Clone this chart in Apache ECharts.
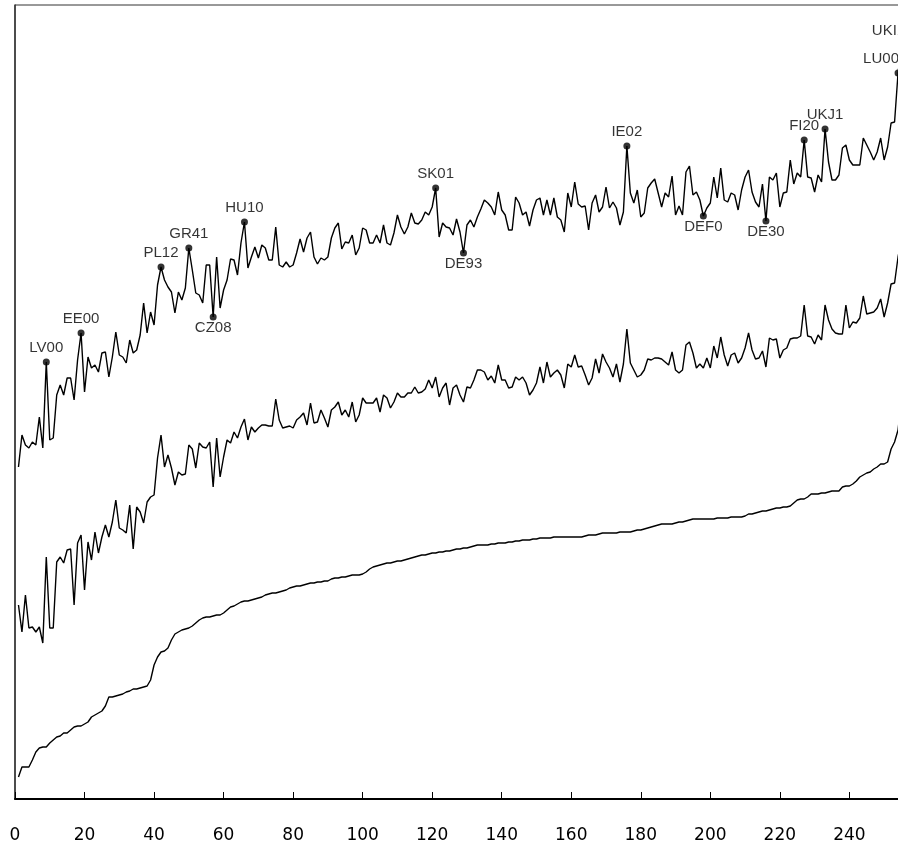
<!DOCTYPE html>
<html>
<head>
<meta charset="utf-8">
<script src="https://cdn.jsdelivr.net/npm/echarts@6.0.0/dist/echarts.min.js"></script>
<style>
  html, body { margin: 0; padding: 0; background: #fff; overflow: hidden; }
  /* a bit wider than the window: the plot runs past the right edge */
  #chart { width: 905px; height: 848px; }
</style>
</head>
<body>
<div id="chart"></div>
<script>
// region rank 1..255 along the x axis
const upper = [
  33.2, 36.4, 35.4, 35.1, 35.7, 35.4, 38.2, 35.1, 43.7, 35.9,
  36.1, 40.4, 41.4, 40.4, 42.1, 42.1, 39.9, 43.9, 46.6, 40.7,
  44.2, 43.1, 43.4, 42.7, 44.6, 44.7, 42.2, 44.2, 46.7, 44.4,
  44.2, 43.6, 45.9, 44.6, 44.9, 46.4, 49.6, 46.6, 48.7, 47.4,
  51.4, 53.2, 51.9, 51.2, 50.7, 48.6, 50.7, 49.9, 51.1, 55.1,
  52.9, 50.6, 50.4, 49.6, 53.4, 53.4, 48.2, 54.2, 49.1, 50.9,
  51.9, 54.0, 53.9, 52.4, 55.6, 57.7, 53.1, 54.2, 55.2, 54.1,
  55.4, 55.1, 53.9, 53.9, 57.2, 53.4, 53.2, 53.7, 53.2, 53.4,
  54.6, 56.0, 54.7, 56.1, 56.7, 54.2, 53.5, 54.1, 53.9, 54.2,
  56.1, 57.1, 57.6, 55.0, 55.7, 55.6, 56.4, 54.4, 55.1, 57.1,
  56.9, 55.6, 55.6, 56.4, 55.6, 57.4, 55.6, 55.4, 56.6, 58.4,
  57.2, 56.5, 57.2, 58.6, 57.6, 57.5, 57.9, 58.7, 58.4, 59.2,
  61.1, 56.2, 57.6, 57.2, 57.1, 56.4, 58.0, 56.7, 54.6, 57.4,
  57.9, 57.2, 58.2, 59.0, 59.9, 59.6, 59.2, 58.4, 60.7, 58.9,
  58.4, 56.9, 56.9, 60.2, 59.6, 58.4, 58.7, 57.3, 58.9, 59.9,
  60.1, 58.4, 59.9, 58.4, 60.1, 58.2, 57.9, 56.7, 60.6, 59.2,
  61.7, 59.5, 59.2, 59.3, 56.9, 59.6, 60.4, 58.7, 59.2, 61.2,
  59.1, 59.7, 59.1, 57.4, 58.7, 65.3, 60.6, 59.6, 60.9, 58.2,
  58.6, 61.1, 61.6, 62.0, 60.6, 59.2, 60.6, 60.2, 62.3, 58.4,
  59.3, 58.4, 62.7, 63.3, 60.4, 60.7, 59.9, 58.3, 59.1, 59.6,
  62.2, 60.1, 63.1, 59.9, 59.7, 60.6, 60.4, 58.9, 60.9, 62.2,
  62.9, 60.7, 59.7, 59.2, 61.5, 57.8, 62.2, 61.9, 62.6, 59.2,
  60.6, 60.7, 63.9, 61.5, 62.6, 62.2, 65.9, 62.2, 62.1, 60.7,
  62.4, 61.7, 67.0, 63.7, 61.9, 61.9, 62.4, 65.1, 65.4, 63.9,
  63.4, 63.4, 63.4, 66.1, 65.4, 64.7, 63.9, 64.7, 66.1, 63.9,
  65.2, 67.6, 67.7, 72.6, 75.4
]

const middle = [
  19.4, 16.7, 20.4, 17.1, 17.2, 16.7, 17.2, 15.6, 24.2, 17.1,
  17.1, 23.7, 24.2, 23.6, 24.9, 25.0, 19.4, 25.6, 26.4, 20.9,
  25.7, 23.9, 26.7, 24.6, 26.2, 27.4, 26.2, 27.7, 29.9, 27.1,
  26.9, 26.6, 29.4, 25.0, 29.2, 28.7, 27.6, 29.7, 30.2, 30.4,
  34.1, 36.4, 33.2, 34.4, 33.1, 31.4, 32.7, 32.4, 32.5, 35.4,
  35.0, 33.1, 35.6, 35.2, 35.1, 35.7, 31.2, 36.1, 32.2, 34.2,
  35.9, 35.6, 36.7, 36.1, 37.2, 38.0, 35.9, 37.2, 36.7, 37.1,
  37.4, 37.4, 37.3, 37.3, 40.0, 37.9, 37.1, 37.2, 37.3, 37.1,
  37.9, 38.2, 38.6, 37.4, 39.6, 37.6, 37.7, 38.9, 38.1, 37.2,
  38.9, 39.2, 39.7, 38.4, 38.9, 38.2, 39.7, 37.7, 38.4, 40.1,
  39.6, 39.6, 39.6, 40.1, 38.7, 40.4, 40.1, 39.1, 39.7, 40.6,
  40.2, 40.2, 40.6, 40.6, 41.2, 40.6, 40.7, 41.0, 41.9, 41.1,
  42.2, 40.2, 41.1, 41.6, 39.4, 41.1, 41.4, 40.4, 39.7, 41.2,
  41.1, 41.9, 42.9, 42.9, 42.7, 41.9, 42.3, 41.6, 43.4, 41.9,
  41.9, 41.1, 41.2, 42.2, 41.9, 42.2, 41.6, 40.4, 40.9, 41.6,
  43.2, 41.6, 43.7, 42.2, 42.6, 42.9, 42.4, 41.1, 43.5, 43.2,
  44.4, 43.2, 43.3, 42.4, 41.4, 42.1, 44.0, 42.6, 44.5, 43.7,
  43.1, 42.2, 43.5, 41.7, 43.5, 47.0, 43.6, 42.9, 42.2, 42.4,
  42.9, 44.0, 43.9, 44.1, 44.1, 44.0, 43.7, 43.4, 44.7, 42.9,
  42.6, 42.9, 45.4, 45.7, 44.6, 43.1, 43.5, 43.1, 44.1, 43.1,
  45.3, 44.1, 46.2, 44.4, 43.3, 44.4, 44.6, 43.6, 44.1, 45.1,
  46.6, 44.9, 44.0, 44.1, 44.8, 43.2, 46.1, 45.9, 46.0, 44.1,
  44.9, 45.1, 46.0, 46.1, 46.1, 46.3, 49.4, 46.3, 46.2, 45.5,
  46.4, 45.9, 49.4, 47.9, 47.0, 46.6, 46.5, 46.5, 49.4, 47.1,
  47.7, 47.6, 48.1, 50.3, 48.5, 48.6, 48.7, 49.1, 50.0, 48.2,
  49.6, 51.5, 51.6, 54.2, 56.0
]

const lower = [
  2.2, 3.2, 3.2, 3.2, 3.9, 4.7, 5.1, 5.2, 5.2, 5.6,
  5.9, 6.2, 6.3, 6.6, 6.6, 6.9, 7.2, 7.3, 7.3, 7.5,
  7.7, 8.2, 8.4, 8.6, 8.8, 9.3, 10.2, 10.2, 10.3, 10.4,
  10.5, 10.7, 10.8, 11.0, 11.0, 11.1, 11.2, 11.3, 11.9, 13.4,
  14.2, 14.7, 14.8, 15.1, 15.9, 16.5, 16.7, 16.9, 17.0, 17.1,
  17.3, 17.6, 17.9, 18.1, 18.2, 18.2, 18.3, 18.4, 18.4, 18.6,
  18.9, 19.2, 19.3, 19.5, 19.7, 19.8, 19.8, 19.9, 20.0, 20.1,
  20.2, 20.4, 20.5, 20.6, 20.6, 20.7, 20.8, 20.9, 21.1, 21.2,
  21.3, 21.3, 21.4, 21.5, 21.6, 21.6, 21.7, 21.7, 21.8, 21.8,
  22.0, 22.1, 22.1, 22.2, 22.2, 22.3, 22.4, 22.4, 22.4, 22.5,
  22.7, 23.0, 23.2, 23.3, 23.4, 23.5, 23.6, 23.6, 23.7, 23.8,
  23.8, 23.9, 24.0, 24.1, 24.2, 24.3, 24.4, 24.4, 24.5, 24.6,
  24.6, 24.7, 24.7, 24.8, 24.8, 24.9, 25.0, 25.0, 25.1, 25.1,
  25.2, 25.3, 25.4, 25.4, 25.4, 25.4, 25.5, 25.5, 25.6, 25.6,
  25.6, 25.7, 25.7, 25.8, 25.8, 25.9, 25.9, 25.9, 26.0, 26.0,
  26.1, 26.1, 26.1, 26.1, 26.2, 26.2, 26.2, 26.2, 26.2, 26.2,
  26.2, 26.2, 26.2, 26.3, 26.4, 26.4, 26.4, 26.5, 26.6, 26.6,
  26.6, 26.6, 26.6, 26.7, 26.7, 26.7, 26.7, 26.8, 26.9, 26.9,
  27.0, 27.1, 27.2, 27.3, 27.4, 27.5, 27.5, 27.5, 27.5, 27.6,
  27.7, 27.7, 27.8, 27.9, 28.0, 28.0, 28.0, 28.0, 28.0, 28.0,
  28.0, 28.1, 28.1, 28.1, 28.1, 28.2, 28.2, 28.2, 28.2, 28.3,
  28.5, 28.5, 28.6, 28.7, 28.8, 28.8, 28.9, 29.0, 29.1, 29.1,
  29.2, 29.2, 29.3, 29.6, 29.9, 30.0, 30.0, 30.2, 30.5, 30.5,
  30.5, 30.6, 30.6, 30.7, 30.8, 30.8, 30.8, 31.2, 31.3, 31.3,
  31.5, 31.8, 32.2, 32.4, 32.6, 32.7, 33.0, 33.2, 33.5, 33.5,
  33.7, 35.0, 35.7, 36.9, 40.0
]

// labelled regions on the upper line: code, rank, label side
const labelNames = ['LV00', 'EE00', 'PL12', 'GR41', 'CZ08', 'HU10', 'SK01', 'DE93',
  'IE02', 'DEF0', 'DE30', 'FI20', 'UKJ1', 'LU00', 'UKI1']
const labelRanks = [9, 19, 42, 50, 57, 66, 121, 129, 176, 198, 216, 227, 233, 254, 255]
const labelSides = ['top', 'top', 'top', 'top', 'bottom', 'top', 'top', 'bottom',
  'top', 'bottom', 'bottom', 'top', 'top', 'top', 'top']

const xTicks = [0, 20, 40, 60, 80, 100, 120, 140, 160, 180, 200, 220, 240]

const toPairs = (arr) => arr.map((v, i) => [i + 1, v])

const lineSeries = (data) => ({
  type: 'line',
  data: toPairs(data),
  showSymbol: false,
  symbol: 'none',
  lineStyle: { color: '#000', width: 1.4 },
  z: 2
})

const marked = labelNames.map((name, k) => {
  const r = labelRanks[k]
  const side = labelSides[k]
  const item = {
    name: name,
    value: [r, upper[r - 1]],
    label: { position: side, distance: side === 'top' ? 3 : 0 }
  }
  if (name === 'LU00') item.label.offset = [-17, 0]
  if (name === 'UKI1') item.label.offset = [-13, 0]
  return item
})

const chart = echarts.init(document.getElementById('chart'), null, { renderer: 'canvas' })

chart.setOption({
  animation: false,
  backgroundColor: '#fff',
  grid: {
    left: 15,
    right: 0,
    top: 5,
    bottom: 49,
    show: true,
    borderColor: '#333',
    borderWidth: 1,
    containLabel: false
  },
  xAxis: {
    type: 'value',
    min: 0,
    max: 256,
    interval: 20,
    axisLine: { show: true, onZero: false, lineStyle: { color: '#000', width: 2 } },
    axisTick: { show: true, inside: true, length: 7, lineStyle: { color: '#000', width: 1 } },
    axisLabel: {
      color: '#000',
      fontSize: 17,
      fontFamily: 'DejaVu Sans',
      margin: 28,
      showMaxLabel: false,
      formatter: (v) => (xTicks.indexOf(v) >= 0 ? String(v) : '')
    },
    splitLine: { show: false }
  },
  yAxis: {
    type: 'value',
    min: 0,
    max: 79.4,
    axisLine: { show: true, lineStyle: { color: '#333', width: 1.5 } },
    axisTick: { show: false },
    axisLabel: { show: false },
    splitLine: { show: false }
  },
  series: [
    lineSeries(upper),
    lineSeries(middle),
    lineSeries(lower),
    {
      type: 'scatter',
      data: marked,
      symbolSize: 7,
      itemStyle: { color: '#000' },
      label: {
        show: true,
        formatter: '{b}',
        color: '#000',
        fontSize: 15,
        fontFamily: 'Liberation Sans, Arial, sans-serif'
      },
      clip: false,
      z: 3
    }
  ]
})
</script>
</body>
</html>
